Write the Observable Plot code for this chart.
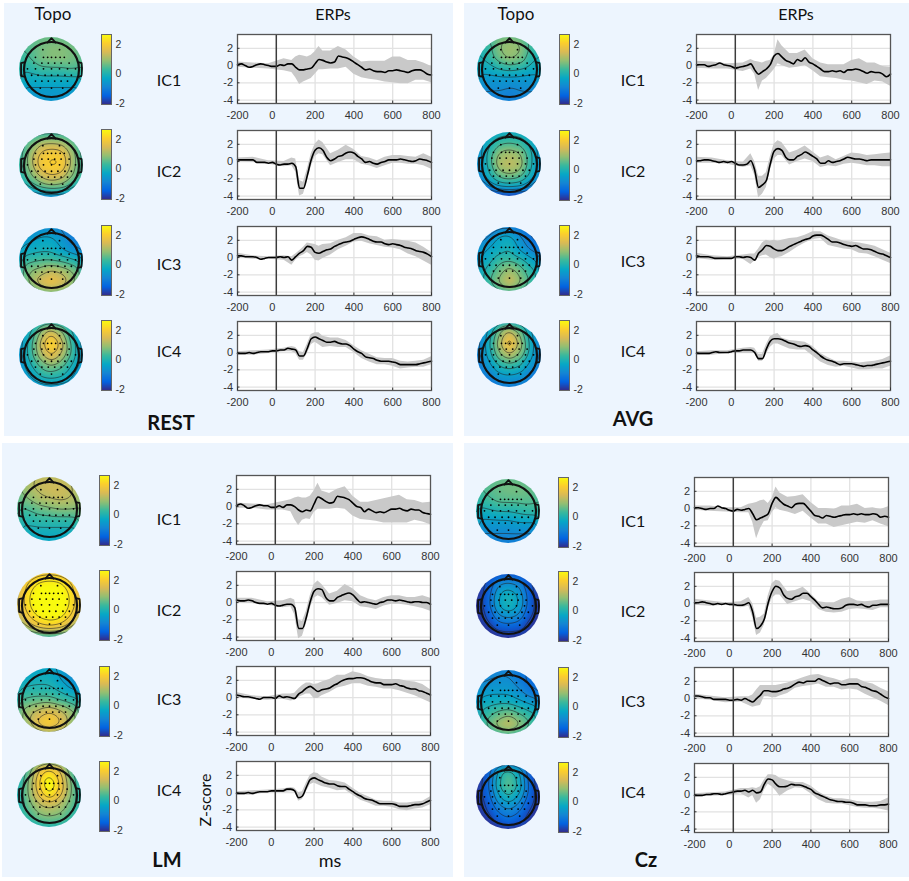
<!DOCTYPE html>
<html>
<head>
<meta charset="utf-8">
<script src="https://cdn.jsdelivr.net/npm/d3@7"></script>
<script src="https://cdn.jsdelivr.net/npm/@observablehq/plot@0.6"></script>
<style>
body { margin: 0; background: #fff; }
#page { position: relative; width: 909px; height: 881px; overflow: hidden; }
#page > * { position: absolute; }
.sheet { background: #edf5fe; }
.lab { font-family: Lato, sans-serif; color: #111; transform: translate(-50%, -50%); white-space: nowrap; }
.big { font-weight: 700; font-size: 20px; }
</style>
</head>
<body>
<div id="page"></div>
<script>
// time bases, ms
const meanTimes = [-200,-180,-160,-140,-120,-100,-80,-60,-40,-20,0,20,40,60,80,100,120,140,160,180,200,220,240,260,280,300,320,340,360,380,400,420,440,460,480,500,520,540,560,580,600,620,640,660,680,700,720,740,760,780,800]
const bandTimes = [-200,-120,-40,40,80,100,120,140,160,180,200,220,240,280,320,360,400,440,480,520,560,600,640,680,720,760,800]
const xTicks = [-200,0,200,400,600,800]
const yTicks = [2,0,-2,-4]
const barTicks = [2,0,-2]

// ERP mean, upper and lower edge of the grey band
const rest1Mean = [.1,.2,0,-.2,-.1,.1,.2,.1,0,-.1,-.1,.1,0,.2,.2,-.2,-.5,-.5,-.4,-.3,.2,.7,.6,.4,.3,.4,1.1,1,.9,.7,.4,.1,-.2,-.5,-.4,-.6,-.7,-.7,-.8,-.6,-.6,-.5,-.6,-.7,-.8,-.6,-.5,-.5,-.7,-1,-1.1]
const rest1Hi = [.4,.3,.2,.8,.6,1,1.2,1.1,1,1.2,1.6,2.2,1.7,1.7,2.2,1.8,1,.4,.5,.5,.5,1,1,.6,.6,.3,-.1]
const rest1Lo = [-.2,-.3,-.4,-.6,-.8,-1.4,-2.2,-1.9,-1.7,-1.5,-1,-.5,-.5,-.4,-.4,-.2,-1,-1.4,-1.6,-1.7,-1.9,-2,-2.1,-2.1,-1.7,-1.7,-2]
const rest2Mean = [.2,.2,.2,.2,.2,-.1,-.1,-.1,-.2,-.1,-.3,-.4,-.3,-.3,-.2,-.6,-3.1,-3.1,-1.6,.2,1.3,1.6,1.3,.5,.1,.3,.6,.7,1,1.1,1,.6,.3,-.1,0,-.2,-.3,-.1,0,.2,.2,.2,.3,.2,.1,0,.1,.3,.2,.1,-.1]
const rest2Hi = [.4,.5,.1,0,.4,.3,-2.2,-2.4,-.9,.9,2,2.5,2.2,.9,1.3,1.9,1.4,.6,.4,.1,.5,.7,.7,.6,.5,.9,.5]
const rest2Lo = [0,-.1,-.3,-.6,-.5,-1.2,-4,-3.8,-2.3,-.6,.6,.9,.8,-.5,-.1,.2,.2,-.3,-.5,-.8,-.5,-.2,-.2,-.3,-.3,-.5,-.9]
const rest3Mean = [.2,.2,.1,.1,.1,0,-.2,-.1,0,0,0,.1,0,.1,-.3,.1,.5,.8,1.3,1.2,.6,.5,.7,.9,1,1.3,1.5,1.7,1.8,1.9,2.1,2.3,2.4,2.3,2.1,1.9,1.8,1.8,1.6,1.5,1.6,1.5,1.4,1.2,1.1,1,.8,.7,.6,.4,.1]
const rest3Hi = [.5,.2,.1,.2,.1,.4,.8,1.2,1.7,1.6,1.5,1.3,1.5,1.6,2,2.3,2.8,2.8,2.5,2.4,2,2.1,2,1.9,1.7,1.2,.6]
const rest3Lo = [0,-.2,-.2,-.3,-.9,-.3,.1,.3,.6,.3,-.3,-.4,-.1,.3,.9,1.3,1.8,1.9,1.6,1.4,1.2,1.1,.9,.4,.1,-.4,-.9]
const rest4Mean = [-.1,-.1,-.1,0,-.1,0,.1,.1,.1,.2,.2,.3,.3,.5,.4,.3,-.4,-.4,.5,1.6,1.8,1.6,1.4,1.2,1.2,1.3,1.1,1,1,.8,.4,.1,-.1,-.5,-.6,-.7,-.9,-1,-1,-1,-1.1,-1.2,-1.4,-1.4,-1.4,-1.4,-1.4,-1.3,-1.2,-1.1,-1]
const rest4Hi = [.1,.2,.3,.5,.7,.6,.1,0,1,2.1,2.3,2.3,1.9,1.7,1.7,1.4,.8,.2,-.2,-.6,-.7,-.7,-1,-1.1,-1,-.9,-.5]
const rest4Lo = [-.3,-.3,-.1,.1,.1,-.1,-.9,-.9,-.1,.9,1.2,.9,.6,.7,.6,.6,0,-.7,-1.1,-1.4,-1.4,-1.6,-1.9,-1.8,-1.7,-1.7,-1.4]

const avg1Mean = [.1,.1,.1,-.1,0,.1,.3,.1,0,-.1,-.3,-.2,-.1,0,.2,-.5,-1,-.7,-.4,.1,1.1,1.4,1,.6,.4,.2,.7,.5,.9,.4,.2,-.1,-.4,-.7,-.7,-.6,-.7,-.6,-.8,-.5,-.5,-.4,-.5,-.7,-.9,-.7,-.8,-.8,-1,-1.3,-1]
const avg1Hi = [.5,.4,.2,.3,.7,.5,.4,.3,.5,.6,1.2,3,2.3,1.4,1.4,1.8,.8,.3,.1,.1,.1,.6,.8,.3,.3,-.1,-.2]
const avg1Lo = [-.3,-.4,-.4,-.7,-.4,-1,-2.9,-1.8,-1.5,-1,-.5,.2,0,-.3,-.2,0,-.6,-1.3,-1.4,-1.5,-1.7,-1.8,-2,-2.2,-1.8,-1.9,-2.4]
const avg2Mean = [.1,.1,.2,.2,.1,0,-.1,0,-.1,0,-.2,-.4,-.4,-.3,.1,-1,-3,-2.7,-2.2,-.3,1.2,1.5,1.3,.5,.2,.2,.6,.8,1.1,.9,.6,.3,-.2,-.2,.1,-.1,0,.1,.3,.5,.4,.3,.3,.2,.1,.2,.2,.2,.2,.2,.2]
const avg2Hi = [.5,.4,.1,-.1,.9,0,-1.7,-1.7,-1.3,.5,2,2.4,2.2,1,1.3,1.8,1.1,.4,.7,.2,.6,1,.9,.7,.8,.9,1]
const avg2Lo = [-.2,-.2,-.3,-.7,-.5,-1.6,-4.2,-3.8,-3,-1,.3,.7,.7,-.4,0,.3,0,-.7,-.5,-.6,-.3,-.2,-.3,-.5,-.5,-.6,-.6]
const avg3Mean = [.2,.1,.1,.1,0,-.1,-.1,-.1,-.1,-.1,.1,.1,0,.1,0,-.3,.5,.9,1.4,1.3,1,.8,.8,1,1.3,1.5,1.7,1.9,2.1,2.2,2.5,2.6,2.6,2.4,2.1,1.8,1.8,1.7,1.5,1.4,1.3,1.4,1.2,1,1,.9,.7,.5,.4,.2,0]
const avg3Hi = [.5,.2,.1,.3,.4,.4,1,1.7,2,1.9,2,1.9,2,2.2,2.3,2.6,3,3,2.5,2.2,1.9,1.8,1.7,1.5,1.3,.9,.5]
const avg3Lo = [-.1,-.3,-.2,-.2,-.8,-.4,0,.2,.3,0,-.2,0,.1,.6,1.2,1.7,2.1,2.2,1.4,1.2,1,.9,.5,.4,.1,-.3,-.7]
const avg4Mean = [-.1,-.1,-.1,-.1,0,.1,0,0,0,.1,.2,.2,.3,.3,.3,0,-.7,-.7,.4,1.3,1.6,1.6,1.5,1.3,1.1,1,.8,.7,.8,.7,.3,0,-.4,-.7,-.9,-1,-1.2,-1.4,-1.3,-1.3,-1.3,-1.4,-1.5,-1.6,-1.5,-1.5,-1.4,-1.3,-1.2,-1.1,-1]
const avg4Hi = [.1,.2,.2,.5,.6,.5,-.2,-.2,.9,1.8,2.1,2.2,1.7,1.4,1.3,1.2,.7,-.1,-.6,-1,-1,-1.1,-1.2,-1.1,-1,-.8,-.4]
const avg4Lo = [-.3,-.3,-.1,-.1,-.1,-.1,-1,-1,-.2,.6,1,1,.8,.4,.3,.3,-.4,-1.1,-1.5,-1.7,-1.6,-1.8,-2,-2,-1.9,-1.9,-1.6]

const lm1Mean = [.1,.3,.1,-.2,-.1,.1,.2,.1,.1,-.1,-.1,.1,-.1,.2,.2,0,-.4,-.6,-.4,-.5,.3,1.1,.9,.6,.4,.5,1.2,1.1,1,.8,.4,0,-.1,-.6,-.3,-.5,-.7,-.6,-.7,-.5,-.3,-.3,-.2,-.4,-.5,-.3,-.4,-.4,-.7,-.8,-.9]
const lm1Hi = [.4,.3,.2,.6,.8,1,1.1,1,1,1.2,1.8,2.7,1.8,1.5,2,2.3,1.2,.5,.5,.7,.9,1.1,1.3,.8,.7,.4,.5]
const lm1Lo = [-.2,-.2,-.4,-.4,-.6,-1.5,-2.2,-1.6,-1.4,-1.5,-.7,-.3,-.3,-.3,-.2,-.3,-1.1,-1.5,-1.6,-1.7,-1.9,-1.9,-1.9,-1.9,-1.6,-1.8,-2.1]
const lm2Mean = [.3,.2,.2,.3,.2,0,-.1,-.1,-.2,-.1,-.3,-.4,-.3,-.2,-.2,-.6,-3,-3,-1.7,.1,1.3,1.6,1.5,.6,.2,.2,.6,.8,1,1.1,.9,.4,0,.1,0,-.1,-.2,0,.1,.3,.3,.2,.3,.2,.1,0,.1,.1,0,0,-.2]
const lm2Hi = [.5,.5,.1,.2,.5,.3,-2,-2.2,-1,.8,2.1,2.5,2.1,1,1.3,2.1,1.6,.8,.4,.2,.6,.8,.8,.6,.6,.8,.5]
const lm2Lo = [0,-.1,-.3,-.6,-.5,-1.4,-4.2,-3.9,-2.5,-.7,.5,.8,.6,-.3,-.1,.2,.1,-.5,-.6,-.8,-.4,-.2,-.2,-.3,-.5,-.7,-1]
const lm3Mean = [.3,.2,.1,.1,0,-.1,-.2,0,0,0,-.1,.2,0,.1,0,-.1,.4,.7,1.1,1.3,1,.7,.9,1,1.1,1.4,1.6,1.9,2.1,2.2,2.2,2.3,2.3,2.2,2,1.8,1.7,1.7,1.5,1.5,1.5,1.6,1.4,1.3,1.1,1,1,.8,.7,.5,.3]
const lm3Hi = [.6,.2,.1,.4,.4,.5,1,1.4,1.7,1.7,1.5,1.6,1.8,2.1,2.6,2.6,3,2.8,2.4,2.2,2.1,2.1,2.1,1.9,1.8,1.5,.9]
const lm3Lo = [0,-.2,-.3,-.2,-.4,-.3,0,.2,.4,.4,-.1,-.1,.2,.6,1.1,1.3,1.6,1.6,1.3,1.2,1,1,.8,.5,.2,-.2,-.6]
const lm4Mean = [-.1,-.1,-.1,0,-.1,0,.1,.1,.1,.2,.2,.2,.2,.4,.4,.2,-.6,-.4,.6,1.5,1.7,1.5,1.3,1.1,1,1,.8,.7,.7,.4,.1,-.2,-.4,-.7,-.8,-.9,-1.1,-1.3,-1.3,-1.3,-1.3,-1.4,-1.6,-1.6,-1.6,-1.5,-1.4,-1.4,-1.3,-1.1,-.9]
const lm4Hi = [.1,.2,.3,.4,.6,.5,0,.1,1.1,2,2.3,2.2,1.8,1.4,1.3,1.1,.5,-.1,-.5,-.9,-1,-1,-1.2,-1.2,-1.1,-1,-.5]
const lm4Lo = [-.3,-.3,0,0,.1,.1,-1,-.8,.1,.9,1.1,.9,.7,.5,.2,.3,-.3,-.9,-1.2,-1.6,-1.6,-1.7,-2,-2.1,-1.9,-1.8,-1.4]

const cz1Mean = [.1,.1,0,-.1,0,0,.3,.1,0,-.2,-.3,-.1,-.2,-.1,0,-.6,-1.3,-1.1,-.9,-.6,.6,1.3,.9,.5,.3,.1,.5,.6,.6,.2,-.3,-.8,-.9,-1.1,-.8,-.9,-1,-.9,-.8,-.7,-.7,-.6,-.7,-.6,-.7,-.7,-.6,-.7,-1,-.9,-1]
const cz1Hi = [.3,.3,.1,.1,.5,.6,.7,.9,1,.6,1.2,2.5,1.8,1.3,1.4,1.6,.7,0,0,-.1,.3,.3,.5,0,.1,-.1,.2]
const cz1Lo = [-.2,-.3,-.4,-.5,-.5,-1.6,-3.5,-2.3,-1.5,-1.4,-.5,.1,-.2,-.4,-.7,-.3,-1.1,-1.8,-1.8,-2.2,-2,-1.8,-1.6,-1.7,-1.4,-1.8,-2.1]
const cz2Mean = [.1,.1,.2,.1,0,-.1,0,-.1,0,-.1,-.1,-.2,-.2,-.1,.1,-1,-2.9,-2.6,-1.8,.1,1.4,2,1.8,1,.6,.5,.8,.9,1.2,1.2,.8,.4,-.1,-.5,-.4,-.5,-.6,-.6,-.5,-.2,-.1,-.1,-.2,-.1,-.3,-.4,-.2,-.2,-.1,-.1,-.1]
const cz2Hi = [.5,.3,.1,.2,.7,0,-1.7,-1.6,-1.2,.9,2.3,2.7,2.6,1.4,1.5,1.9,1.1,.2,.1,.1,.5,.7,.3,.2,.3,.4,.4]
const cz2Lo = [-.2,-.3,-.2,-.5,-.3,-1.6,-3.7,-3.4,-2.5,-.6,.6,1,1,-.1,.2,.5,.2,-.7,-1,-1.1,-1,-.7,-.6,-.7,-.8,-.5,-.5]
const cz3Mean = [.3,.3,.2,.1,.1,-.1,-.1,-.1,-.1,-.2,-.2,-.1,-.2,0,-.2,-.4,0,.4,.9,.9,.8,.8,.9,1.1,1.2,1.4,1.7,1.9,1.8,2,2,2,2.3,2.1,1.9,1.7,1.8,1.8,1.6,1.6,1.7,1.7,1.7,1.4,1.3,1.1,.9,.8,.5,.2,0]
const cz3Hi = [.5,.3,.1,.2,.2,.4,1,1.5,1.5,1.5,1.5,1.5,1.6,1.8,2.1,2.4,2.7,2.8,2.5,2.3,2,2.3,2.3,1.9,1.7,1.2,.8]
const cz3Lo = [0,-.2,-.5,-.4,-.8,-1,-.9,-.8,.2,.2,.1,.1,.3,.6,1.2,1.4,1.5,1.7,1.3,1.3,1,1.1,1,.5,.1,-.3,-.8]
const cz4Mean = [-.1,-.1,-.1,0,0,.1,.1,0,.1,.2,.3,.4,.4,.5,.3,.5,.2,.3,1.2,1.8,1.7,1.2,.9,.9,1,1.2,1.1,1.1,1,.8,.6,.2,0,-.2,-.4,-.6,-.7,-.8,-.8,-.9,-.9,-1,-1.2,-1.2,-1.2,-1.3,-1.3,-1.3,-1.2,-1.2,-1.1]
const cz4Hi = [.1,.2,.3,.7,.7,.8,.7,.9,1.7,2.3,2.3,2.2,1.9,1.6,1.4,1.4,1,.3,-.2,-.5,-.5,-.6,-.8,-.9,-.9,-.8,-.4]
const cz4Lo = [-.3,-.2,-.1,.1,-.4,-.1,-1,-.6,.5,1.2,.9,.4,-.2,.4,.8,.7,.1,-.6,-1,-1.1,-1.1,-1.3,-1.5,-1.6,-1.6,-1.7,-1.9]

// scalp maps, 7x7 samples, front row first, left to right
const rest1Topo = [.6,.6,.6,.6,.6,.5,.5, .4,.5,.7,.8,.8,.7,.5, .2,.4,.7,.8,.8,.7,.5, 0,.1,.3,.3,.3,.4,.3, -.2,-.2,-.2,-.2,-.2,-.2,-.2, -.5,-.5,-.5,-.5,-.5,-.5,-.5, -.6,-.6,-.6,-.6,-.6,-.6,-.6]
const rest2Topo = [0,.1,.3,.3,.3,.1,0, .1,.7,1.2,1.3,1.2,.7,.1, .2,1,1.8,2,1.9,1,.2, .2,1,1.9,2.1,2,1,.2, 0,.7,1.3,1.6,1.4,.8,.1, -.5,.1,.5,.7,.6,.1,-.4, -1.1,-1,-.9,-.8,-.9,-1,-1.1]
const rest3Topo = [-.8,-.8,-.7,-.7,-.9,-1,-1.1, -.7,-.5,-.3,-.3,-.6,-1,-1.1, -.3,-.2,-.1,-.1,-.4,-.7,-.8, .1,.3,.4,.4,.3,.1,-.1, .4,.8,1,1.3,1.1,.8,.4, .4,.9,1.5,1.8,1.5,.9,.4, .1,.5,.7,.9,.7,.5,.1]
const rest4Topo = [-.7,-.3,.3,.5,.3,-.3,-.7, -.7,0,1,1.7,1,0,-.7, -.6,.2,1.4,2.3,1.4,.2,-.6, -.6,.2,1.1,1.7,1.1,.2,-.6, -.7,-.1,.5,.8,.5,-.1,-.7, -.9,-.4,0,.1,0,-.4,-.9, -1.1,-.8,-.6,-.5,-.6,-.8,-1.1]
const avg1Topo = [.2,.5,.7,.8,.6,.3,.1, 0,.2,.8,1,.9,.3,0, -.1,.1,.6,.9,.7,.1,-.1, -.3,-.2,0,.1,0,-.2,-.3, -.6,-.6,-.6,-.6,-.6,-.6,-.6, -.8,-.8,-.8,-.9,-.8,-.8,-.8, -.9,-.9,-1,-1,-1,-.9,-.9]
const avg2Topo = [-.6,-.4,-.2,-.1,-.2,-.4,-.6, -.7,-.1,.3,.4,.3,-.1,-.7, -.7,.1,.9,1.1,.9,.1,-.7, -.8,.1,1.1,1.3,1.1,.1,-.8, -.9,-.1,.6,.8,.6,-.1,-.9, -1.5,-.7,-.3,-.2,-.3,-.7,-1.5, -2,-2,-1.9,-1.8,-1.9,-2,-2]
const avg3Topo = [-1.1,-1,-.9,-.9,-1.1,-1.3,-1.4, -1,-.8,-.3,-.2,-.7,-1.2,-1.4, -.6,-.4,-.2,0,-.5,-.9,-1.1, -.4,-.2,.2,.3,.1,-.3,-.6, -.2,.1,.6,1,.6,.1,-.2, -.2,.3,.9,1.4,.9,.3,-.2, -.3,0,.4,.7,.4,0,-.3]
const avg4Topo = [-1,-.6,.1,.4,.1,-.6,-1, -1,-.3,.8,1.6,.8,-.3,-1, -1,-.2,1.1,2,1.1,-.2,-1, -1,-.3,.7,1.2,.7,-.3,-1, -1.1,-.6,0,.2,0,-.6,-1.1, -1.2,-1,-.6,-.5,-.6,-1,-1.2, -1.3,-1.2,-1.1,-1,-1.1,-1.2,-1.3]
const lm1Topo = [.9,1.1,1.3,1.3,1.3,1.1,.9, .7,1.1,1.3,1.4,1.4,1.3,.9, .5,.8,1.1,1.2,1.3,1.2,.9, .3,.4,.6,.7,.8,.8,.7, .1,.1,.2,.2,.2,.2,.3, -.1,-.1,-.1,-.1,-.1,-.1,-.1, -.3,-.3,-.3,-.3,-.3,-.3,-.3]
const lm2Topo = [1.4,1.6,1.9,2,1.9,1.6,1.4, 1.4,2.1,2.5,2.6,2.5,2.1,1.4, 1.5,2.3,3,3,3,2.3,1.5, 1.5,2.3,3,3,3,2.3,1.5, 1.2,2,2.5,2.7,2.6,2,1.2, .5,1.3,1.8,2,1.8,1.3,.6, -.2,0,.1,.2,.1,0,-.2]
const lm3Topo = [-.4,-.4,-.3,-.3,-.5,-.7,-.9, -.3,-.2,-.1,-.1,-.4,-.7,-.9, 0,.1,.1,.1,-.1,-.4,-.5, .4,.5,.6,.6,.4,.2,.1, .7,1,1.3,1.6,1.3,.9,.6, .7,1.1,1.8,2.1,1.7,1,.7, .5,.8,1.1,1.3,1.1,.8,.5]
const lm4Topo = [-.1,.3,1.2,1.5,1.2,.3,-.1, -.1,.6,1.8,2.4,1.8,.6,-.1, 0,.8,2,3,2,.8,0, 0,.8,1.7,2.4,1.7,.8,0, 0,.6,1.1,1.3,1.1,.6,0, -.1,.3,.7,.8,.7,.3,-.1, -.3,-.2,0,.1,0,-.2,-.3]
const cz1Topo = [.4,.5,.6,.6,.6,.5,.4, .3,.5,.6,.7,.7,.6,.4, .1,.3,.5,.5,.5,.5,.4, -.2,-.1,0,0,.1,.2,.2, -.5,-.5,-.5,-.5,-.4,-.4,-.4, -.8,-.8,-.8,-.8,-.8,-.8,-.8, -1,-1,-1,-1,-1,-1,-1]
const cz2Topo = [-2,-1.8,-1.5,-1.4,-1.5,-1.8,-2, -2,-1.6,-.8,-.6,-.8,-1.6,-2, -2,-1.5,-.4,0,-.4,-1.5,-2, -2,-1.5,-.4,0,-.4,-1.5,-2, -2,-1.7,-.9,-.7,-.9,-1.7,-2, -2,-1.9,-1.6,-1.5,-1.6,-1.9,-2, -2,-2,-2,-2,-2,-2,-2]
const cz3Topo = [-1,-1,-.9,-.9,-1.1,-1.3,-1.3, -.9,-.8,-.7,-.7,-1,-1.3,-1.4, -.6,-.5,-.5,-.5,-.7,-1.1,-1.2, -.3,-.2,-.1,-.1,-.3,-.5,-.6, 0,.2,.5,.7,.4,.1,-.1, 0,.5,1,1.3,.9,.4,0, -.2,.1,.4,.6,.3,.1,-.2]
const cz4Topo = [-2,-1.7,-.6,-.3,-.6,-1.7,-2, -2,-1.5,-.2,.5,-.2,-1.5,-2, -2,-1.4,-.1,.6,-.1,-1.4,-2, -2,-1.5,-.5,0,-.5,-1.5,-2, -2,-1.7,-1,-.7,-1,-1.7,-2, -2,-1.9,-1.5,-1.2,-1.5,-1.9,-2, -2,-2,-2,-1.9,-2,-2,-2]

// sample grid of the maps, electrode sites and head outline, in head units
const gridAxis = [-1,-.667,-.333,0,.333,.667,1]
const contourLevels = [-1.7,-1.2,-.8,-.4,0,.4,.8,1.2,1.6,2,2.4]
const electrodes = [[-.27,.62],[.25,.62],[-.25,.38],[-.12,.38],[0,.38],[.13,.38],[.27,.38],[.4,.38],[-.5,.38],[-.55,.2],[-.3,.2],[-.1,.2],[.1,.2],[.3,.2],[.55,.2],[-.75,.02],[-.5,.02],[-.25,.02],[0,.02],[.25,.02],[.5,.02],[.75,.02],[-.62,-.18],[-.42,-.18],[-.2,-.18],[0,-.18],[.2,-.18],[.42,-.18],[.62,-.18],[-.5,-.36],[-.3,-.36],[-.1,-.36],[.1,-.36],[.3,-.36],[.5,-.36],[-.35,-.58],[0,-.58],[.35,-.58]]
const nose = [[-.13,.84],[0,.98],[.13,.84]]
const earLeft = [[-.86,.22],[-.95,.2],[-.95,-.2],[-.86,-.22]]
const earRight = [[.86,.22],[.95,.2],[.95,-.2],[.86,-.22]]

// parula
const parula = ["#352a87","#0363e1","#1485d4","#06a7c6","#38b99e","#92bf73","#d9ba56","#fcce2e","#f9fb0e"]
const parulaStops = [-2.05,-1.4625,-.875,-.2875,.3,.8875,1.475,2.0625,2.65]
const colorScale = {type: "linear", domain: parulaStops, range: parula, clamp: true}

const conditions = ["REST","AVG","LM","Cz"]
const components = ["IC1","IC2","IC3","IC4"]
const traces = [
  [[rest1Mean,rest1Hi,rest1Lo,rest1Topo],[rest2Mean,rest2Hi,rest2Lo,rest2Topo],[rest3Mean,rest3Hi,rest3Lo,rest3Topo],[rest4Mean,rest4Hi,rest4Lo,rest4Topo]],
  [[avg1Mean,avg1Hi,avg1Lo,avg1Topo],[avg2Mean,avg2Hi,avg2Lo,avg2Topo],[avg3Mean,avg3Hi,avg3Lo,avg3Topo],[avg4Mean,avg4Hi,avg4Lo,avg4Topo]],
  [[lm1Mean,lm1Hi,lm1Lo,lm1Topo],[lm2Mean,lm2Hi,lm2Lo,lm2Topo],[lm3Mean,lm3Hi,lm3Lo,lm3Topo],[lm4Mean,lm4Hi,lm4Lo,lm4Topo]],
  [[cz1Mean,cz1Hi,cz1Lo,cz1Topo],[cz2Mean,cz2Hi,cz2Lo,cz2Topo],[cz3Mean,cz3Hi,cz3Lo,cz3Topo],[cz4Mean,cz4Hi,cz4Lo,cz4Topo]],
]

// layout, page pixels, one entry per condition
const sheets = [[4,3,449,433],[464,3,445,433],[2,443,451,434],[464,443,445,434]]
const erpLeft = [237,696,236,694]
const erpTops = [[34,130,226,321],[34,130,226,321],[475,571,666,761],[477,572,667,763]]
const topoX = [51,509,49,508]
const topoY = [[69,165,260,355],[69,164,259,355],[509,605,700,795],[511,606,702,797]]
const barLeft = [101,559,99,558]
const barTops = [[34,129,225,320],[34,130,225,320],[475,570,666,761],[477,571,667,762]]
const labelX = [169,633,169,633]
const labelY = [[79,170,263,350],[79,170,260,350],[518,609,698,789],[520,610,700,791]]
const bigLabels = [[171,422],[633,418],[167,859],[646,859]]

const page = document.getElementById("page")
const place = (el, x, y) => { el.style.left = x + "px"; el.style.top = y + "px"; page.append(el); return el }
const label = (txt, x, y, size, cls) => {
  const d = document.createElement("div")
  d.className = "lab " + (cls || "")
  d.textContent = txt
  if (size) d.style.fontSize = size + "px"
  return place(d, x, y)
}

function erp([mean, hi, lo]) {
  return Plot.plot({
    width: 232, height: 93,
    marginLeft: 30, marginRight: 8, marginTop: 4, marginBottom: 20,
    x: {domain: [-200, 800], axis: null},
    y: {domain: [-4.4, 3.6], axis: null},
    style: {background: "transparent", fontFamily: "'Liberation Sans', sans-serif", fontSize: "11px", overflow: "visible"},
    marks: [
      Plot.frame({fill: "#fff"}),
      Plot.ruleX([200, 400, 600], {stroke: "#e2e2e2", strokeWidth: 1.3}),
      Plot.ruleY(yTicks, {stroke: "#e2e2e2", strokeWidth: 1.3}),
      Plot.areaY(bandTimes, {x: d => d, y1: (d, i) => lo[i], y2: (d, i) => hi[i], fill: "#c9c9c9"}),
      Plot.lineY(meanTimes, {x: d => d, y: (d, i) => mean[i], stroke: "#000", strokeWidth: 1.6, curve: "monotone-x"}),
      Plot.ruleX([0], {stroke: "#3c3c3c", strokeWidth: 1.5}),
      Plot.frame({stroke: "#555", strokeWidth: 1.3}),
      Plot.axisX(xTicks.filter(d => d !== 0), {anchor: "bottom", tickSize: -2.5, tickPadding: 10, tickFormat: d => `${d}`, label: null, color: "#333"}),
      Plot.axisX([0], {anchor: "bottom", tickSize: 0, tickPadding: 7.5, dx: -4, tickFormat: d => `${d}`, label: null, color: "#333"}),
      Plot.axisY(yTicks, {anchor: "left", tickSize: -2.5, tickPadding: 7, tickFormat: d => `${d}`, label: null, color: "#333"}),
    ],
  })
}

function topo(values) {
  const samples = values.map((v, i) => ({x: gridAxis[i % 7], y: gridAxis[6 - Math.floor(i / 7)], v}))
  const svg = Plot.plot({
    width: 66, height: 66, margin: 0,
    x: {domain: [-1.03, 1.03], axis: null},
    y: {domain: [-1.03, 1.03], axis: null},
    color: colorScale,
    style: {background: "transparent"},
    marks: [
      Plot.raster(samples, {x: "x", y: "y", fill: "v", interpolate: "barycentric", pixelSize: 1, blur: 2}),
      Plot.contour(samples, {x: "x", y: "y", value: "v", interpolate: "barycentric", pixelSize: 1, blur: 3, thresholds: contourLevels, fill: "none", stroke: "#222", strokeWidth: .7, strokeOpacity: .8}),
      Plot.dot(electrodes, {x: "0", y: "1", r: .9, fill: "#000", stroke: "none"}),
      Plot.dot([[0, 0]], {x: "0", y: "1", r: 27.5, stroke: "#111", strokeWidth: 2.2, fill: "none"}),
      Plot.line(nose, {x: "0", y: "1", stroke: "#111", strokeWidth: 1.8}),
      Plot.line(earLeft, {x: "0", y: "1", stroke: "#111", strokeWidth: 1.8}),
      Plot.line(earRight, {x: "0", y: "1", stroke: "#111", strokeWidth: 1.8}),
    ],
  })
  svg.style.clipPath = "circle(32px at 33px 33px)"
  return svg
}

function colorbar() {
  return Plot.plot({
    width: 30, height: 72,
    marginLeft: 1, marginRight: 19, marginTop: 1, marginBottom: 1,
    x: {domain: [0, 1], axis: null},
    y: {domain: [-2.05, 2.65], axis: null},
    color: colorScale,
    style: {background: "transparent", fontFamily: "'Liberation Sans', sans-serif", fontSize: "10.5px", overflow: "visible"},
    marks: [
      Plot.raster({fill: (x, y) => y, x1: 0, x2: 1, y1: -2.05, y2: 2.65, pixelSize: 1}),
      Plot.frame({stroke: "#666", strokeWidth: 1}),
      Plot.axisY(barTicks, {anchor: "right", tickSize: 0, tickPadding: 4, tickFormat: d => `${d}`, label: null, color: "#333"}),
    ],
  })
}

conditions.forEach((name, c) => {
  const s = document.createElement("div")
  s.className = "sheet"
  s.style.width = sheets[c][2] + "px"
  s.style.height = sheets[c][3] + "px"
  place(s, sheets[c][0], sheets[c][1])
})

conditions.forEach((name, c) => {
  components.forEach((ic, k) => {
    place(erp(traces[c][k]), erpLeft[c] - 30, erpTops[c][k] - 4)
    place(topo(traces[c][k][3]), topoX[c] - 33, topoY[c][k] - 33)
    place(colorbar(), barLeft[c] - 1, barTops[c][k] - 1)
    label(ic, labelX[c], labelY[c][k], 16)
  })
  label(name, bigLabels[c][0], bigLabels[c][1], 20, "big")
})

label("Topo", 53, 13, 17)
label("ERPs", 333, 13, 16)
label("Topo", 516, 13, 17)
label("ERPs", 796, 13, 16)
label("ms", 330, 860, 18)
label("Z-score", 204, 800, 16).style.transform = "translate(-50%, -50%) rotate(-90deg)"
</script>
</body>
</html>
